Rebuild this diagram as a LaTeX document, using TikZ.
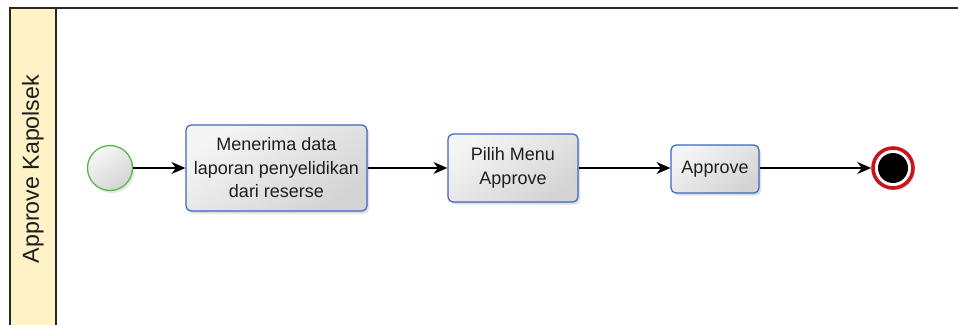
\documentclass[tikz,border=0pt]{standalone}
\usepackage{fontspec}
\setmainfont{Liberation Sans}
\usetikzlibrary{arrows.meta,shadows}

\definecolor{laneline}{RGB}{40,40,40}
\definecolor{lanehead}{RGB}{255,242,198}
\definecolor{taskborder}{RGB}{58,102,196}
\definecolor{startborder}{RGB}{88,184,76}
\definecolor{endborder}{RGB}{200,22,28}
\definecolor{labeltext}{RGB}{30,30,30}

\tikzset{
  px/.style={x=1pt,y=-1pt},
  taskbox/.style={draw=taskborder, line width=1.2pt, rounded corners=5pt,
    top color=white!96!black, bottom color=black!17, shading angle=35,
    align=center, font=\fontsize{18}{23.5}\selectfont, text=labeltext, inner sep=0pt,
    drop shadow={opacity=0.25, shadow xshift=2pt, shadow yshift=-2.5pt}},
  startev/.style={circle, draw=startborder, line width=1.3pt, minimum size=45pt,
    inner sep=0pt, top color=white!97!black, bottom color=black!17, shading angle=35,
    drop shadow={opacity=0.2, shadow xshift=2pt, shadow yshift=-2.5pt}},
  endev/.style={circle, draw=endborder, line width=3.6pt, minimum size=40pt,
    inner sep=0pt, fill=white,
    drop shadow={opacity=0.25, shadow xshift=2pt, shadow yshift=-2.5pt}},
  flow/.style={draw=black, line width=1.2pt, -{Stealth[length=14pt,width=12pt,inset=4.5pt]}},
}

\begin{document}
\begin{tikzpicture}[px]
  \useasboundingbox (0,0) rectangle (958,324);

  % swimlane
  \fill[lanehead] (10,8) rectangle (56,330);
  \draw[laneline, line width=1.4pt] (970,8) -- (10,8) -- (10,330);
  \draw[laneline, line width=1.2pt] (56,8) -- (56,330);
  \node[rotate=90, font=\fontsize{23.2}{27}\selectfont, text=labeltext] (lanelabel) at (33,169) {Approve Kapolsek};

  % flow elements
  \node[startev] (start) at (110,168) {};
  \node[taskbox, minimum width=181pt, minimum height=86pt] (t1) at (276.5,168)
    {Menerima data\\laporan penyelidikan\\dari reserse};
  \node[taskbox, minimum width=130pt, minimum height=68pt] (t2) at (513,168)
    {Pilih Menu\\Approve};
  \node[taskbox, minimum width=88pt, minimum height=48pt] (t3) at (715,169)
    {Approve};
  \node[endev] (end) at (893,168) {};
  \fill[black] (end.center) circle (15pt);

  % sequence flows
  \draw[flow] (start) -- (t1);
  \draw[flow] (t1) -- (t2);
  \draw[flow] (t2) -- (t3.west |- t2.east);
  \draw[flow] (t3.east |- end.west) -- (end);
\end{tikzpicture}
\end{document}
